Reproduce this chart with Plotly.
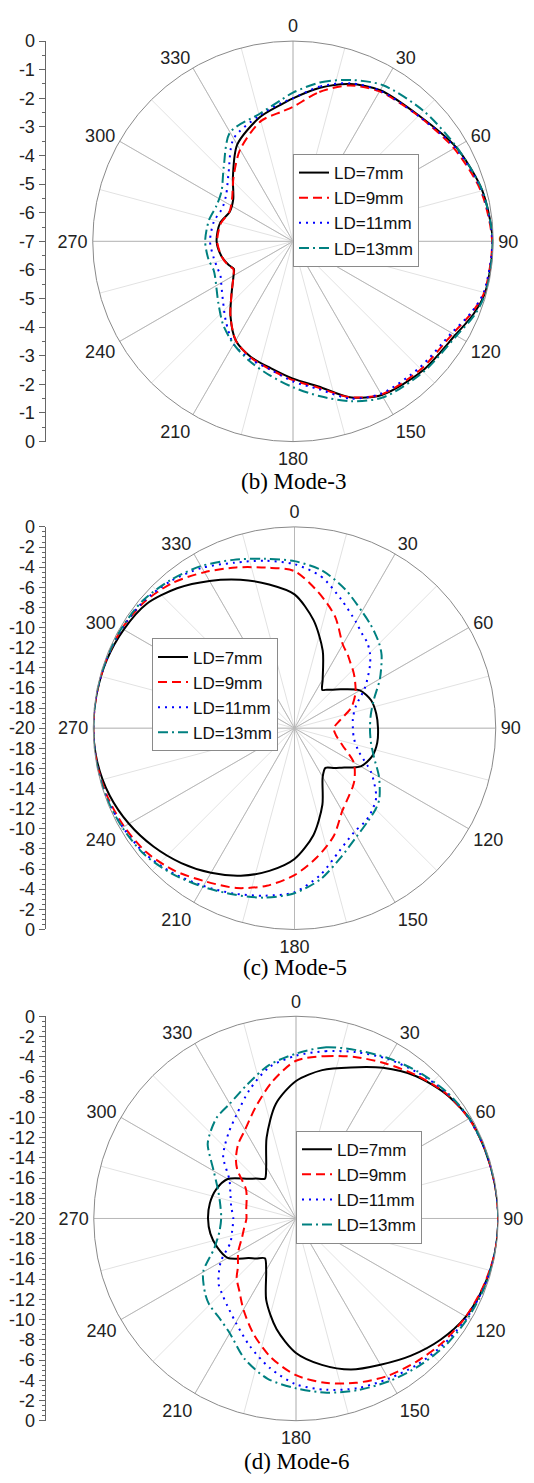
import plotly.graph_objects as go

W, H = 534, 1483

SERIES_NAMES = ["LD=7mm", "LD=9mm", "LD=11mm", "LD=13mm"]
ANGLE_TICKS = [0, 30, 60, 90, 120, 150, 180, 210, 240, 270, 300, 330]

# ---------------- (b) Mode-3 ----------------
THETA_M3 = [0, 10, 20, 30, 45, 60, 75, 90, 105, 112, 120, 135, 150, 160, 170, 180, 190, 200, 210,
            220, 230, 240, 245, 250, 258, 270, 284, 295, 305, 317, 330, 345, 355]
M3_LD7 = [-2.0, -1.55, -1.15, -0.9, -0.78, -0.42, -0.15, -0.02, -0.05, -0.2, -0.45, -0.6, -0.8, -1.2,
          -1.85, -2.2, -2.5, -2.7, -3.0, -3.6, -4.2, -4.6, -4.72, -4.6, -4.45, -4.33, -4.37, -4.56,
          -4.45, -3.92, -3.1, -2.51, -2.2]
M3_LD9 = [-2.3, -1.7, -1.2, -0.95, -0.8, -0.5, -0.2, -0.04, -0.08, -0.28, -0.55, -0.68, -0.82, -1.2,
          -1.8, -2.15, -2.45, -2.68, -3.0, -3.6, -4.2, -4.6, -4.7, -4.58, -4.45, -4.35, -4.4, -4.55,
          -4.4, -3.95, -3.3, -2.65, -2.45]
M3_LD11 = [-2.0, -1.5, -1.12, -0.92, -0.8, -0.45, -0.17, -0.03, -0.1, -0.3, -0.6, -0.75, -0.85, -1.15,
           -1.75, -2.1, -2.45, -2.62, -2.85, -3.35, -3.8, -4.1, -4.2, -4.2, -4.17, -4.1, -4.15, -4.27,
           -4.15, -3.7, -2.85, -2.45, -2.15]
M3_LD13 = [-1.8, -1.35, -1.0, -0.7, -0.55, -0.4, -0.15, -0.02, -0.03, -0.15, -0.4, -0.55, -0.7, -1.05,
           -1.5, -1.9, -2.25, -2.55, -2.85, -3.2, -3.6, -3.9, -4.0, -4.05, -3.98, -3.93, -3.97, -4.05,
           -3.95, -3.45, -2.6, -2.4, -2.05]

# ---------------- (c) Mode-5 ----------------
THETA_M5 = [0, 10, 20, 30, 36, 40, 45, 50, 60, 70, 80, 90, 100, 110, 120, 130, 135, 142, 150, 160, 170,
            180, 190, 200, 210, 220, 230, 240, 250, 260, 270, 280, 290, 300, 310, 320, 330, 340, 350]
M5_LD7 = [-6.7, -9.1, -11.8, -14.4, -15.3, -15.0, -14.6, -14.0, -12.5, -11.9, -11.75, -11.7, -11.65,
          -11.8, -12.4, -13.9, -14.4, -15.0, -14.4, -11.9, -9.2, -7.0, -5.6, -4.4, -3.4, -2.5, -1.7,
          -1.0, -0.45, -0.12, 0.0, -0.05, -0.15, -0.4, -0.8, -1.85, -3.1, -4.3, -5.5]
M5_LD9 = [-4.4, -6.3, -8.2, -10.4, -11.0, -11.4, -11.8, -12.2, -13.0, -14.0, -15.4, -16.1, -15.8,
          -14.9, -13.2, -12.2, -11.8, -11.3, -10.5, -8.6, -7.0, -5.4, -4.1, -3.1, -2.4, -1.5, -0.8,
          -0.45, -0.2, -0.05, 0.0, -0.05, -0.1, -0.2, -0.5, -1.15, -2.1, -3.0, -3.8]
M5_LD11 = [-3.7, -4.7, -6.4, -7.8, -8.5, -8.8, -9.4, -10.2, -11.9, -13.5, -14.1, -14.2, -14.0, -13.2,
           -11.2, -9.4, -8.9, -8.4, -8.1, -7.0, -5.2, -3.7, -3.1, -2.5, -1.9, -1.2, -0.6, -0.3, -0.1,
           -0.03, 0.0, -0.03, -0.1, -0.2, -0.4, -0.9, -1.6, -2.5, -3.1]
M5_LD13 = [-3.4, -4.1, -5.3, -6.6, -7.2, -7.6, -8.1, -8.7, -10.2, -11.6, -12.3, -12.5, -12.3, -11.6,
           -10.3, -9.0, -8.6, -8.2, -7.6, -6.4, -4.8, -3.6, -2.9, -2.4, -1.8, -1.1, -0.5, -0.25, -0.08,
           -0.02, 0.0, -0.02, -0.08, -0.15, -0.3, -0.8, -1.4, -2.2, -2.9]

# ---------------- (d) Mode-6 ----------------
THETA_M6 = [0, 10, 20, 30, 40, 50, 60, 70, 80, 90, 100, 110, 120, 130, 140, 150, 160, 170, 180, 190,
            200, 210, 218, 225, 230, 240, 250, 260, 270, 280, 290, 300, 310, 315, 322, 330, 340, 350]
M6_LD7 = [-6.4, -5.1, -4.1, -2.8, -1.6, -0.75, -0.2, -0.12, -0.05, 0.0, -0.05, -0.25, -0.6, -1.35,
          -2.3, -3.3, -4.1, -5.3, -6.7, -8.9, -11.4, -14.1, -15.0, -14.4, -13.9, -12.2, -11.7, -11.4,
          -11.3, -11.35, -11.6, -12.2, -13.9, -14.4, -15.0, -14.1, -11.5, -8.5]
M6_LD9 = [-4.4, -3.7, -3.0, -2.3, -1.5, -0.7, -0.25, -0.1, -0.05, 0.0, -0.05, -0.3, -0.6, -1.0, -1.5,
          -2.0, -2.7, -3.5, -4.5, -6.0, -7.8, -9.6, -10.9, -11.7, -12.5, -13.4, -14.3, -14.8, -15.1,
          -15.0, -14.8, -14.3, -12.4, -11.6, -10.7, -9.9, -8.3, -6.3]
M6_LD11 = [-3.9, -3.2, -2.5, -1.8, -1.2, -0.6, -0.25, -0.1, -0.03, 0.0, -0.03, -0.2, -0.45, -0.8,
           -1.2, -1.7, -2.15, -2.8, -3.6, -5.0, -6.6, -8.1, -9.0, -9.6, -10.0, -11.4, -13.1, -13.6,
           -13.8, -13.5, -13.1, -12.4, -10.6, -10.0, -9.2, -8.2, -6.5, -4.8]
M6_LD13 = [-3.7, -2.8, -2.3, -1.7, -1.1, -0.55, -0.2, -0.08, -0.02, 0.0, -0.02, -0.15, -0.35, -0.6,
           -1.0, -1.45, -1.95, -2.5, -3.2, -3.9, -5.2, -6.9, -7.6, -7.9, -8.3, -9.4, -11.4, -12.3,
           -12.6, -12.4, -11.8, -10.6, -8.6, -8.0, -7.3, -6.9, -5.9, -4.6]

COLORS = ["#000000", "#ff0000", "#0000ff", "#008080"]
DASHES = ["solid", "9px,5px", "2px,5px", "10px,4px,2px,4px"]

SANS = "Liberation Sans, Arial, sans-serif"
SERIF = "Liberation Serif, Times New Roman, serif"

panels = [
    dict(theta=THETA_M3, series=[M3_LD7, M3_LD9, M3_LD11, M3_LD13], rmin=-7, major=1, minor=0.5,
         cx=293, cy=234.5, R=203, caption="(b) Mode-3", cap_y=478, leg=(293, 146)),
    dict(theta=THETA_M5, series=[M5_LD7, M5_LD9, M5_LD11, M5_LD13], rmin=-20, major=2, minor=0.5,
         cx=294.5, cy=728, R=204, caption="(c) Mode-5", cap_y=971, leg=(152, 637)),
    dict(theta=THETA_M6, series=[M6_LD7, M6_LD9, M6_LD11, M6_LD13], rmin=-20, major=2, minor=0.5,
         cx=296, cy=1225, R=205, caption="(d) Mode-6", cap_y=1471, leg=(296, 1136)),
]

fig = go.Figure()
lay = {}
annotations = []
AXIS_X = 45.5

for i, p in enumerate(panels):
    gid = "polar" if i == 0 else f"polar{2 * i + 1}"
    did = f"polar{2 * i + 2}"
    legid = "legend" if i == 0 else f"legend{i + 1}"
    xdom = [(p["cx"] - p["R"]) / W, (p["cx"] + p["R"]) / W]
    ydom = [1 - (p["cy"] + p["R"]) / H, 1 - (p["cy"] - p["R"]) / H]

    # background polar: light spokes every 15 degrees
    lay[gid] = dict(
        domain=dict(x=xdom, y=ydom), bgcolor="white",
        angularaxis=dict(rotation=90, direction="clockwise", tickmode="array",
                         tickvals=list(range(0, 360, 15)), showticklabels=False, ticks="",
                         showline=False, showgrid=True, gridcolor="#e2e2e2", gridwidth=1),
        radialaxis=dict(range=[p["rmin"], 0], showticklabels=False, showline=False,
                        showgrid=False, ticks=""),
    )
    fig.add_trace(go.Scatterpolar(r=[], theta=[], subplot=gid, showlegend=False, mode="lines"))

    # data polar
    lay[did] = dict(
        domain=dict(x=xdom, y=ydom), bgcolor="rgba(0,0,0,0)",
        angularaxis=dict(rotation=90, direction="clockwise", tickmode="array",
                         tickvals=ANGLE_TICKS, ticktext=[str(a) for a in ANGLE_TICKS],
                         ticks="outside", ticklen=1, tickcolor="rgba(0,0,0,0)",
                         showline=True, linecolor="#8a8a8a", linewidth=1,
                         showgrid=True, gridcolor="#b8b8b8", gridwidth=1,
                         tickfont=dict(family=SANS, size=18, color="#222222")),
        radialaxis=dict(range=[p["rmin"], 0], showticklabels=False, showline=False,
                        showgrid=False, ticks=""),
    )
    for name, r, col, dash in zip(SERIES_NAMES, p["series"], COLORS, DASHES):
        fig.add_trace(go.Scatterpolar(
            r=list(r) + [r[0]], theta=list(p["theta"]) + [p["theta"][0]],
            mode="lines", name=name, subplot=did, legend=legid,
            line=dict(color=col, width=2, dash=dash, shape="spline", smoothing=0.8),
        ))

    lay[legid] = dict(
        x=p["leg"][0] / W, y=1 - p["leg"][1] / H, xanchor="left", yanchor="top",
        bgcolor="white", bordercolor="#8a8a8a", borderwidth=1,
        font=dict(family=SANS, size=17, color="#111111"), tracegroupgap=0,
    )

    # left dB scale
    n = i + 1
    xa = "xaxis" if n == 1 else f"xaxis{n}"
    ya = "yaxis" if n == 1 else f"yaxis{n}"
    xr = "x" if n == 1 else f"x{n}"
    yr = "y" if n == 1 else f"y{n}"
    rmax = -p["rmin"]
    tv = list(range(-rmax, rmax + 1, p["major"]))
    tt = [str(abs(v) - rmax) for v in tv]
    lay[xa] = dict(domain=[AXIS_X / W, 60 / W], range=[0, 1], visible=False, anchor=yr)
    lay[ya] = dict(domain=ydom, range=[-rmax, rmax], anchor=xr, side="left",
                   showline=True, linecolor="#666666", linewidth=1, showgrid=False, zeroline=False,
                   ticks="outside", ticklen=6, tickcolor="#666666", tickmode="array",
                   tickvals=tv, ticktext=tt,
                   tickfont=dict(family=SANS, size=18, color="#222222"),
                   minor=dict(ticks="outside", ticklen=3, dtick=p["minor"], tick0=0,
                              tickcolor="#666666", showgrid=False))
    fig.add_trace(go.Scatter(x=[], y=[], xaxis=xr, yaxis=yr, showlegend=False))

    annotations.append(dict(text=p["caption"], x=p["cx"] / W, y=1 - p["cap_y"] / H,
                            xref="paper", yref="paper", xanchor="center", yanchor="middle",
                            showarrow=False, font=dict(family=SERIF, size=23, color="black")))

fig.update_layout(
    width=W, height=H, margin=dict(l=0, r=0, t=0, b=0),
    paper_bgcolor="white", plot_bgcolor="white",
    annotations=annotations, **lay,
)

fig.write_html("out.html")
